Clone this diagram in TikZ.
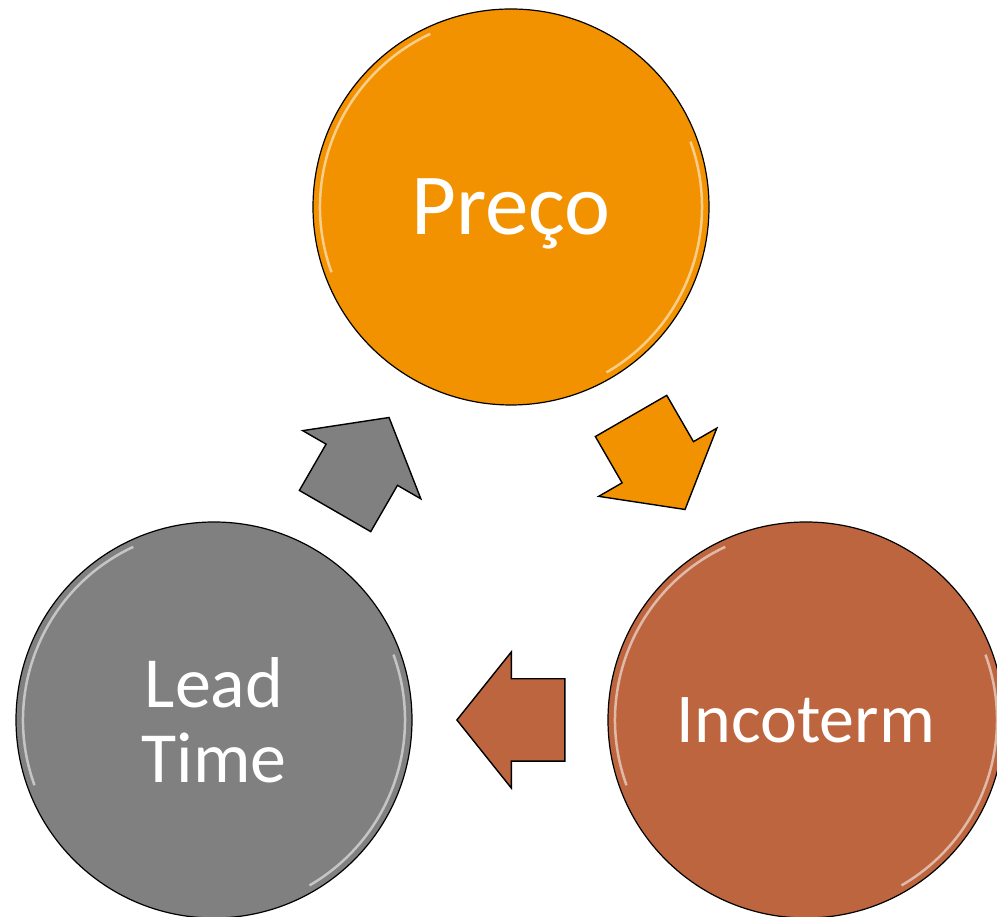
\documentclass[tikz,border=0pt]{standalone}
\usepackage{fontspec}
\setmainfont{Carlito}
\usetikzlibrary{positioning, shapes, arrows.meta, calc}

\definecolor{precoorange}{RGB}{243,146,0}
\definecolor{incobrown}{RGB}{189,101,63}
\definecolor{leadgray}{RGB}{128,128,128}

\begin{document}
\begin{tikzpicture}[
    x=1pt, y=1pt,
    stage/.style={draw=black, line width=1.2pt, circle, minimum size=396pt, inner sep=0pt, text=white, align=center, font=\fontsize{72}{75}\selectfont, glossy},
    glossy/.style={path picture={
        \draw[white, opacity=.55, line width=2.5pt]
            ([shift={(115:191pt)}]path picture bounding box.center) arc[start angle=115, end angle=200, radius=191pt]
            ([shift={(-60:191pt)}]path picture bounding box.center) arc[start angle=-60, end angle=20, radius=191pt];
    }},
    turn/.style={draw=black, line width=1.4pt, single arrow, minimum height=108pt, minimum width=135pt, inner xsep=0pt, inner ysep=40.5pt, single arrow head extend=27pt, single arrow tip angle=102.7, anchor=tip}
]
\useasboundingbox (0,0) rectangle (997,917);

% Stages
\node[stage, fill=precoorange, font=\fontsize{87}{90}\selectfont, text depth=0pt] (preco) at (511,710) {Preço};
\node[stage, fill=incobrown, font=\fontsize{70}{75}\selectfont] (incoterm) at (806,197) {Incoterm};
\node[stage, fill=leadgray] (lead) at (214,197) {Lead\\Time};

% Arrows between stages
\coordinate (pi) at ($(preco)!0.5!(incoterm)$);
\coordinate (il) at ($(incoterm)!0.5!(lead)$);
\coordinate (lp) at ($(lead)!0.5!(preco)$);
\node[turn, fill=precoorange, rotate=-60] (precoarrow) at ([shift={(-60:54)}]pi) {};
\node[turn, fill=incobrown, rotate=180] (incoarrow) at ([shift={(180:54)}]il) {};
\node[turn, fill=leadgray, rotate=60] (leadarrow) at ([shift={(60:54)}]lp) {};

\end{tikzpicture}
\end{document}
